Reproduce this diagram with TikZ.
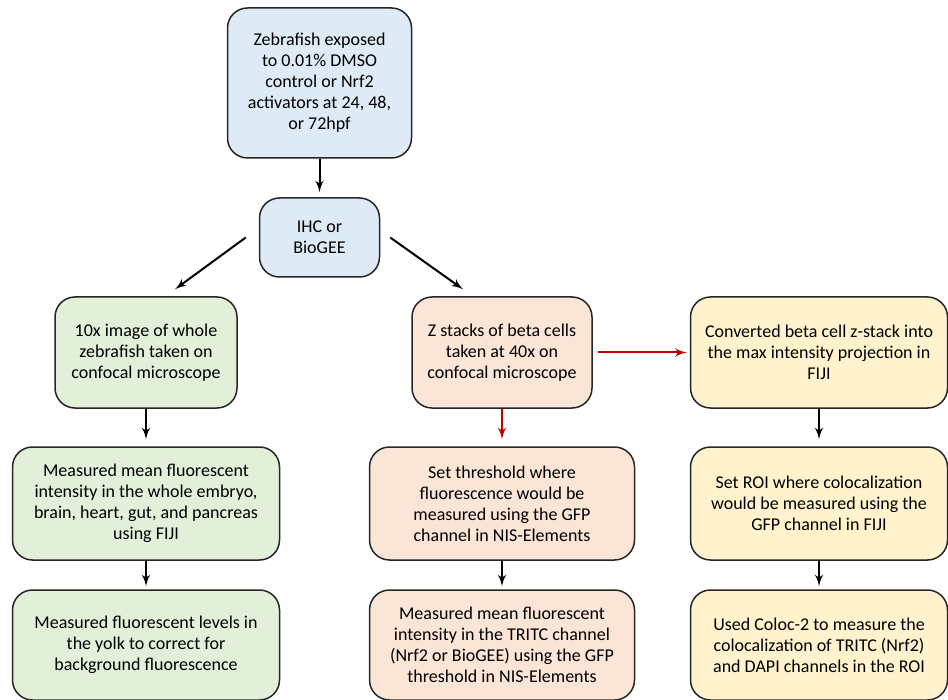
\documentclass[tikz,border=0pt]{standalone}
\usepackage{fontspec}
\setmainfont{Carlito}
\usepackage{tikz}
\usetikzlibrary{shapes,arrows,calc}
\definecolor{boxblue}{HTML}{DEEBF7}
\definecolor{boxgreen}{HTML}{E2F0D9}
\definecolor{boxorange}{HTML}{FBE5D6}
\definecolor{boxyellow}{HTML}{FFF2CC}
\definecolor{arrowred}{HTML}{C00000}
\tikzstyle{block} = [rectangle, draw=black!85, line width=0.75pt, align=center,
    rounded corners=10pt, inner sep=2pt]
\tikzstyle{blueblock} = [block, fill=boxblue]
\tikzstyle{greenblock} = [block, fill=boxgreen]
\tikzstyle{orangeblock} = [block, fill=boxorange]
\tikzstyle{yellowblock} = [block, fill=boxyellow]
\tikzstyle{line} = [draw, line width=1pt, color=black, -{latex'[scale=1.3]}, shorten >=1.5pt]
\tikzstyle{redline} = [line, color=arrowred]

\begin{document}
\begin{tikzpicture}[x=0.5pt, y=-0.5pt, node distance = 2cm,
    font=\fontsize{9pt}{10.5pt}\selectfont]
    \useasboundingbox (0,0) rectangle (948,700);
    % Place nodes
    \node [blueblock, minimum width=92pt, minimum height=75pt] at (319.5,83) (exposure)
      {Zebrafish exposed\\to 0.01\% DMSO\\control or Nrf2\\activators at 24, 48,\\or 72hpf};
    \node [blueblock, below of=exposure, node distance=77.25pt, minimum width=60pt, minimum height=39.5pt] (stain)
      {IHC or\\BioGEE};
    \node [greenblock, minimum width=91pt, minimum height=55.5pt] at (146,352.5) (wholeImage)
      {10x image of whole\\zebrafish taken on\\confocal microscope};
    \node [greenblock, below of=wholeImage, node distance=75.5pt, minimum width=133.5pt, minimum height=56.5pt] (meanOrgans)
      {Measured mean fluorescent\\intensity in the whole embryo,\\brain, heart, gut, and pancreas\\using FIJI};
    \node [greenblock, below of=meanOrgans, node distance=70.75pt, minimum width=133.5pt, minimum height=55pt] (yolkLevels)
      {Measured fluorescent levels in\\the yolk to correct for\\background fluorescence};
    \node [orangeblock, right of=wholeImage, node distance=178pt, minimum width=90pt, minimum height=55.5pt] (zStacks)
      {Z stacks of beta cells\\taken at 40x on\\confocal microscope};
    \node [orangeblock, below of=zStacks, node distance=75.5pt, minimum width=132.5pt, minimum height=56.5pt] (threshold)
      {Set threshold where\\fluorescence would be\\measured using the GFP\\channel in NIS-Elements};
    \node [orangeblock, below of=threshold, node distance=70.75pt, minimum width=132.5pt, minimum height=55pt] (tritcMean)
      {Measured mean fluorescent\\intensity in the TRITC channel\\(Nrf2 or BioGEE) using the GFP\\threshold in NIS-Elements};
    \node [yellowblock, right of=zStacks, node distance=158.5pt, minimum width=128.5pt, minimum height=55.5pt] (maxProj)
      {Converted beta cell z-stack into\\the max intensity projection in\\FIJI};
    \node [yellowblock, below of=maxProj, node distance=75.5pt, minimum width=128.5pt, minimum height=56.5pt] (setRoi)
      {Set ROI where colocalization\\would be measured using the\\GFP channel in FIJI};
    \node [yellowblock, below of=setRoi, node distance=70.75pt, minimum width=128.5pt, minimum height=55pt] (coloc)
      {Used Coloc-2 to measure the\\colocalization of TRITC (Nrf2)\\and DAPI channels in the ROI};

    % Draw edges
    \path [line, shorten >=2.5pt] (exposure) -- (stain);
    \coordinate (leftStart) at ($(stain.west)+(-13,0)$);
    \coordinate (leftEnd) at ($(wholeImage.north)+(29,-7)$);
    \coordinate (rightStart) at ($(stain.east)+(10,0)$);
    \coordinate (rightEnd) at ($(zStacks.north)+(-39,-7)$);
    \path [line, shorten >=0pt] (leftStart) -- (leftEnd);
    \path [line, shorten >=0pt] (rightStart) -- (rightEnd);
    \path [line, shorten >=3.5pt] (wholeImage) -- (meanOrgans);
    \path [line] (meanOrgans) -- (yolkLevels);
    \path [redline, shorten >=3.5pt] (zStacks) -- (threshold);
    \path [line] (threshold) -- (tritcMean);
    \path [redline, shorten <=2.5pt] (zStacks) -- (maxProj);
    \path [line, shorten >=3.5pt] (maxProj) -- (setRoi);
    \path [line] (setRoi) -- (coloc);
\end{tikzpicture}
\end{document}
